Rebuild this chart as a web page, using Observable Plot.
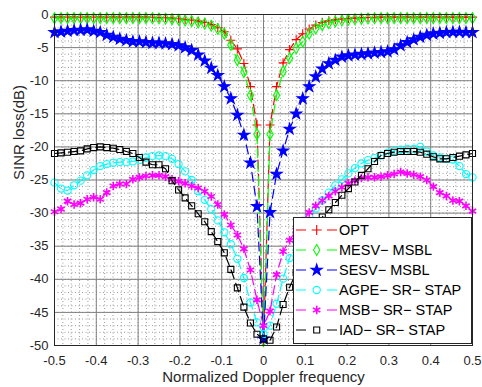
<!DOCTYPE html>
<html><head><meta charset="utf-8">
<script src="https://cdn.jsdelivr.net/npm/d3@7"></script>
<script src="https://cdn.jsdelivr.net/npm/@observablehq/plot@0.6"></script>
<style>
body{margin:0;background:#fff;}
#wrap{position:relative;width:482px;height:387px;font-family:"Liberation Sans",Arial,sans-serif;}
#legend{position:absolute;left:293px;top:217px;}
</style></head><body><div id="wrap"></div>
<script>
const doppler = [-0.5,-0.484375,-0.46875,-0.453125,-0.4375,-0.421875,-0.40625,-0.390625,-0.375,-0.359375,-0.34375,-0.328125,-0.3125,-0.296875,-0.28125,-0.265625,-0.25,-0.234375,-0.21875,-0.203125,-0.1875,-0.171875,-0.15625,-0.140625,-0.125,-0.109375,-0.09375,-0.078125,-0.0625,-0.046875,-0.03125,-0.015625,0,0.015625,0.03125,0.046875,0.0625,0.078125,0.09375,0.109375,0.125,0.140625,0.15625,0.171875,0.1875,0.203125,0.21875,0.234375,0.25,0.265625,0.28125,0.296875,0.3125,0.328125,0.34375,0.359375,0.375,0.390625,0.40625,0.421875,0.4375,0.453125,0.46875,0.484375,0.5];

const seriesNames = ["OPT","MESV\u2212 MSBL","SESV\u2212 MSBL","AGPE\u2212 SR\u2212 STAP","MSB\u2212 SR\u2212 STAP","IAD\u2212 SR\u2212 STAP"];

const opt = [-0.4,-0.4,-0.4,-0.4,-0.4,-0.4,-0.4,-0.4,-0.4,-0.4,-0.4,-0.4,-0.4,-0.4,-0.4,
  -0.42,-0.45,-0.5,-0.55,-0.65,-0.75,-0.85,-1.0,-1.2,-1.5,-2.0,-2.6,-3.9,-5.2,-7.4,-10.9,-16.7,-49.5,
  -16.7,-10.9,-7.3,-5.3,-3.8,-2.9,-2.2,-1.6,-1.2,-0.95,-0.8,-0.68,-0.6,-0.55,-0.5,-0.46,-0.43,
  -0.4,-0.4,-0.4,-0.4,-0.4,-0.4,-0.4,-0.4,-0.4,-0.4,-0.4,-0.4,-0.4,-0.4,-0.4];

const mesv = [-0.55,-0.55,-0.55,-0.55,-0.55,-0.55,-0.55,-0.55,-0.55,-0.55,-0.55,-0.55,-0.55,-0.55,-0.55,
  -0.57,-0.6,-0.65,-0.7,-0.8,-0.9,-1.0,-1.2,-1.4,-1.7,-2.2,-2.9,-4.6,-6.9,-8.7,-12.2,-18.1,-49.3,
  -18.1,-12.2,-8.6,-6.6,-5.1,-4.1,-2.9,-2.1,-1.6,-1.3,-1.05,-0.9,-0.8,-0.72,-0.66,-0.6,-0.57,
  -0.55,-0.55,-0.55,-0.55,-0.55,-0.55,-0.55,-0.55,-0.55,-0.55,-0.55,-0.55,-0.55,-0.55,-0.55];

const sesv = [-2.7,-2.6,-2.5,-2.4,-2.35,-2.3,-2.5,-2.7,-3.1,-3.4,-3.7,-3.9,-4.1,-4.1,-4.2,-4.3,-4.3,-4.4,-4.5,-4.7,
  -5.0,-5.4,-6.1,-7.0,-8.1,-9.2,-10.9,-12.7,-15.2,-18.2,-22.4,-29.0,-49.0,
  -29.9,-24.1,-20.6,-17.3,-15.0,-12.7,-10.9,-9.4,-8.2,-7.4,-6.9,-6.4,-6.2,-6.1,-6.0,-5.9,-5.8,-5.7,-5.6,
  -5.3,-4.7,-4.2,-3.8,-3.4,-3.1,-2.9,-2.8,-2.7,-2.65,-2.65,-2.7,-2.7];

const agpe = [-25.4,-26.3,-26.6,-25.8,-25.1,-24.3,-23.5,-22.9,-22.6,-22.4,-22.3,-22.3,-22.2,-22.0,-21.6,-21.4,-21.3,-21.4,-21.8,-22.6,
  -23.7,-25.0,-26.7,-28.0,-29.4,-31.1,-32.9,-34.7,-36.9,-39.8,-43.5,-46.5,-48.3,
  -47.0,-43.7,-39.9,-36.8,-34.3,-32.2,-30.5,-29.3,-28.1,-26.9,-25.8,-24.9,-24.0,-23.2,-22.5,-22.0,-21.7,
  -21.3,-20.9,-20.6,-20.4,-20.3,-20.3,-20.0,-20.7,-21.3,-21.6,-21.8,-21.9,-22.9,-24.1,-24.6];

const msb = [-29.8,-29.4,-28.2,-28.7,-28.5,-27.9,-27.6,-27.9,-26.9,-25.9,-25.6,-25.6,-24.9,-24.6,-24.4,-24.3,-24.3,-24.5,-24.9,-25.2,
  -25.5,-25.9,-26.2,-26.7,-27.5,-28.7,-30.2,-31.8,-33.3,-35.4,-38.6,-43.1,-47.0,
  -44.8,-39.3,-35.8,-34.1,-32.6,-31.2,-29.9,-28.9,-28.1,-27.4,-26.7,-26.1,-25.5,-25.1,-24.7,-24.6,-24.6,
  -24.5,-24.3,-24.1,-23.8,-24.0,-24.2,-24.5,-25.0,-26.0,-26.9,-27.4,-28.1,-28.2,-28.9,-29.7];

const iad = [-21.0,-20.9,-20.8,-20.7,-20.6,-20.3,-20.1,-20.0,-20.1,-20.2,-20.4,-20.7,-21.0,-21.6,-22.3,-22.7,-22.7,-23.3,-25.1,-26.5,
  -27.7,-28.9,-30.1,-31.3,-32.8,-34.3,-36.0,-38.5,-41.3,-44.2,-46.6,-48.3,-49.0,
  -49.2,-47.2,-43.8,-41.2,-39.0,-36.8,-34.7,-32.5,-30.6,-29.5,-28.4,-27.3,-26.3,-25.3,-24.3,-23.3,-22.2,
  -21.3,-21.0,-20.8,-20.7,-20.7,-20.7,-20.8,-21.1,-21.5,-21.8,-21.8,-21.6,-21.4,-21.2,-21.0];

const xTicks = [-0.5,-0.4,-0.3,-0.2,-0.1,0,0.1,0.2,0.3,0.4,0.5];
const yTicks = [0,-5,-10,-15,-20,-25,-30,-35,-40,-45,-50];
const xLabel = "Normalized Doppler frequency";
const yLabel = "SINR loss(dB)";

const seriesValues = [opt, mesv, sesv, agpe, msb, iad];
const colors = ["#ff0000","#00ff00","#0000ff","#00ffff","#ff00ff","#000000"];
const symbols = ["plus","diamond","star","circle","asterisk","square"];
const radii = [3.0, 3.3, 3.5, 3.6, 4.0, 3.4];
const filled = [false,false,true,false,false,false];

const xMinor = d3.range(0,51).map(i => -0.5 + i*0.02);
const yMinor = d3.range(0,51).map(i => -i);

const seriesMarks = [];
seriesValues.forEach((vals, s) => {
  const data = doppler.map((x, i) => ({x, y: vals[i]}));
  seriesMarks.push(Plot.line(data, {x: "x", y: "y", stroke: colors[s], strokeWidth: 1.2, strokeDasharray: "9,5"}));
  seriesMarks.push(Plot.dot(data, {x: "x", y: "y", symbol: symbols[s], r: radii[s],
    stroke: colors[s], strokeWidth: s === 4 ? 1.6 : 1.1, fill: filled[s] ? colors[s] : "none"}));
});

const chart = Plot.plot({
  width: 482, height: 387,
  marginLeft: 54, marginRight: 10, marginTop: 14, marginBottom: 42,
  style: {fontFamily: "'Liberation Sans', Arial, sans-serif", fontSize: "13px", color: "#262626", background: "white"},
  x: {domain: [-0.5, 0.5]},
  y: {domain: [-50, 0]},
  marks: [
    Plot.gridX(xMinor, {stroke: "#9a9a9a", strokeOpacity: 1, strokeDasharray: "1,2.5"}),
    Plot.gridY(yMinor, {stroke: "#9a9a9a", strokeOpacity: 1, strokeDasharray: "1,2.5"}),
    Plot.gridX(xTicks, {stroke: "#808080", strokeOpacity: 1}),
    Plot.gridY(yTicks, {stroke: "#808080", strokeOpacity: 1}),
    Plot.axisX(xTicks, {tickSize: 0, tickPadding: 10, tickFormat: d => String(d), label: null, fontSize: 13, fill: "#262626"}),
    Plot.axisY(yTicks, {tickSize: 0, tickPadding: 6, tickFormat: d => String(d), label: null, fontSize: 13, fill: "#262626"}),
    ...seriesMarks,
    Plot.frame({stroke: "#262626"}),
    Plot.text([xLabel], {text: d => d, frameAnchor: "bottom", dy: 36, fontSize: 15, fill: "#262626"}),
    Plot.text([yLabel], {text: d => d, frameAnchor: "left", dx: -35, rotate: -90, fontSize: 15, fill: "#262626"})
  ]
});

const wrap = document.getElementById("wrap");
wrap.appendChild(chart);

// Legend overlay
const lw = 179, lh = 127;
const legend = d3.select(wrap).append("div").attr("id", "legend")
  .append("svg").attr("width", lw).attr("height", lh)
  .style("display", "block");
legend.append("rect").attr("x", 0.5).attr("y", 0.5).attr("width", lw - 1).attr("height", lh - 1)
  .attr("fill", "white").attr("stroke", "#262626");
const symMap = {plus: d3.symbolPlus, diamond: d3.symbolDiamond, star: d3.symbolStar, circle: d3.symbolCircle, asterisk: d3.symbolAsterisk, square: d3.symbolSquare};
seriesNames.forEach((name, s) => {
  const cy = 13 + s * 20;
  const g = legend.append("g");
  g.append("line").attr("x1", 3).attr("x2", 44).attr("y1", cy).attr("y2", cy)
    .attr("stroke", colors[s]).attr("stroke-width", 1.2).attr("stroke-dasharray", "10,21");
  const rr = s === 0 ? 3.3 : radii[s];
  g.append("path").attr("transform", `translate(23.7,${cy})`)
    .attr("d", d3.symbol(symMap[symbols[s]], Math.PI * rr * rr)())
    .attr("stroke", colors[s]).attr("stroke-width", s === 4 ? 1.6 : 1.1)
    .attr("fill", filled[s] ? colors[s] : "none");
  g.append("text").attr("x", 46).attr("y", cy).attr("dy", "0.36em")
    .attr("font-size", "14.5px").attr("fill", "#000")
    .attr("font-family", "'Liberation Sans', Arial, sans-serif")
    .text(name);
});
</script>
</body></html>
